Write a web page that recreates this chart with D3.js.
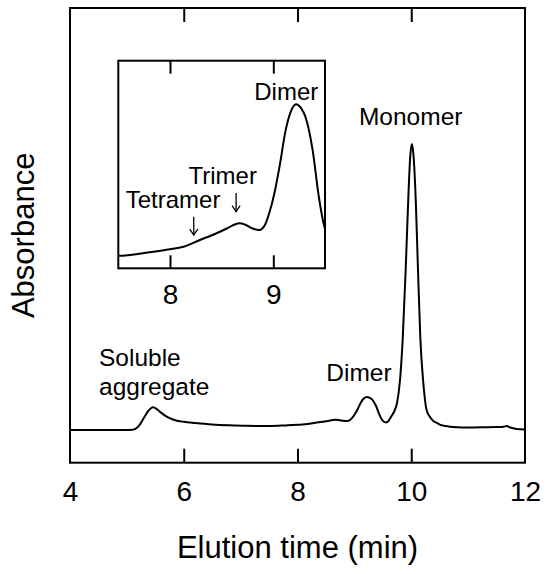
<!DOCTYPE html>
<html>
<head>
<meta charset="utf-8">
<script src="https://cdn.jsdelivr.net/npm/d3@7"></script>
<style>
  html, body { margin: 0; padding: 0; background: #fff; }
  svg { display: block; }
  text { font-family: "Liberation Sans", Arial, sans-serif; fill: #000; }
</style>
</head>
<body>
<svg id="chart" width="546" height="574"></svg>
<script>
// ---- data ----
const elutionTime = [
  4.00, 4.50, 5.00, 5.10, 5.20, 5.30, 5.38, 5.46, 5.53, 5.60, 5.70, 5.80, 5.90, 6.00,
  6.20, 6.50, 6.80, 7.10, 7.50, 7.80, 8.00, 8.13, 8.29, 8.45, 8.55, 8.62, 8.673, 8.73,
  8.80, 8.865, 8.92, 8.96, 9.01, 9.06, 9.12, 9.17, 9.22, 9.27, 9.31, 9.38, 9.44, 9.49,
  9.53, 9.56, 9.60, 9.65, 9.70, 9.75, 9.80, 9.85, 9.90, 9.95, 9.98, 10.01, 10.04, 10.08,
  10.12, 10.16, 10.21, 10.27, 10.33, 10.40, 10.45, 10.50, 10.60, 10.80, 11.00, 11.30,
  11.50, 11.62, 11.68, 11.74, 11.85, 12.00
];
const absorbance = [
  0.0, 0.0, 0.0, 0.1, 1.2, 4.3, 6.8, 8.0, 7.3, 6.1, 4.7, 3.8, 3.2, 2.9,
  2.5, 2.0, 1.7, 1.5, 1.42, 1.65, 1.85, 2.03, 2.48, 2.93, 3.25, 3.5, 3.6, 3.5,
  3.25, 3.15, 3.5, 4.27, 5.6, 7.4, 9.86, 11.1, 11.58, 11.3, 10.75, 8.52, 5.38, 3.48,
  2.8, 2.7, 3.2, 4.8, 6.5, 9.5, 17, 32, 55, 82, 95, 100, 96, 80,
  55, 32, 17, 7, 4.6, 3.0, 2.5, 1.9, 1.4, 1.0, 0.9, 1.0,
  1.1, 1.2, 1.4, 0.9, 0.4, 0.2
];
const mainTicks = [4, 6, 8, 10, 12];
const insetTicks = [8, 9];
const mainLabels = [
  { lines: ["Soluble", "aggregate"], t: 4.51, v: 22.4, anchor: "start" },
  { lines: ["Dimer"], t: 9.08, v: 17.2, anchor: "middle" },
  { lines: ["Monomer"], t: 9.99, v: 106.6, anchor: "middle" }
];
const insetLabels = [
  { text: "Dimer", t: 9.125, v: 11.87 },
  { text: "Trimer", t: 8.51, v: 6.23 },
  { text: "Tetramer", t: 8.03, v: 4.6 }
];
const insetArrows = [
  { t: 8.64, v0: 5.63, v1: 4.38 },
  { t: 8.23, v0: 4.04, v1: 2.81 }
];

const data = elutionTime.map((t, i) => ({ t, v: absorbance[i] }));

const svg = d3.select("#chart");

// ---- main plot ----
const M = { left: 70, right: 525, top: 8, bottom: 462.7 };
const x = d3.scaleLinear().domain([4, 12]).range([M.left, M.right]);
const y = d3.scaleLinear().domain([-11.4, 147.6]).range([M.bottom, M.top]);

const line = d3.line().x(d => x(d.t)).y(d => y(d.v)).curve(d3.curveMonotoneX);

svg.append("path").datum(data)
  .attr("d", line)
  .attr("fill", "none").attr("stroke", "#000").attr("stroke-width", 2)
  .attr("stroke-linejoin", "round");

// frame
svg.append("rect")
  .attr("x", M.left).attr("y", M.top)
  .attr("width", M.right - M.left).attr("height", M.bottom - M.top)
  .attr("fill", "none").attr("stroke", "#000").attr("stroke-width", 2);

// bottom axis (ticks inward)
const xAxisB = d3.axisBottom(x).tickValues(mainTicks).tickSize(-14).tickFormat(d3.format("d"));
const gB = svg.append("g").attr("transform", `translate(0,${M.bottom})`).call(xAxisB);
gB.select(".domain").remove();
gB.selectAll("line").attr("stroke", "#000").attr("stroke-width", 2)
  .filter(d => d === 4 || d === 12).remove();
gB.selectAll("text").attr("font-size", 28).attr("font-family", "Liberation Sans, Arial, sans-serif")
  .attr("dy", 0).attr("y", 38.5);

const xAxisT = d3.axisTop(x).tickValues(mainTicks).tickSize(-14).tickFormat("");
const gT = svg.append("g").attr("transform", `translate(0,${M.top})`).call(xAxisT);
gT.select(".domain").remove();
gT.selectAll("line").attr("stroke", "#000").attr("stroke-width", 2)
  .filter(d => d === 4 || d === 12).remove();

// axis titles
svg.append("text")
  .attr("x", (M.left + M.right) / 2).attr("y", 558)
  .attr("text-anchor", "middle").attr("font-size", 31)
  .text("Elution time (min)");
svg.append("text")
  .attr("transform", `translate(34,${(M.top + M.bottom) / 2}) rotate(-90)`)
  .attr("text-anchor", "middle").attr("font-size", 31)
  .text("Absorbance");

// main annotations
mainLabels.forEach(l => {
  const tx = svg.append("text")
    .attr("x", x(l.t)).attr("y", y(l.v))
    .attr("text-anchor", l.anchor).attr("font-size", 24.5);
  l.lines.forEach((s, i) => {
    tx.append("tspan").attr("x", x(l.t)).attr("dy", i === 0 ? 0 : 29).text(s);
  });
});

// ---- inset ----
const I = { left: 118.3, right: 325, top: 60.7, bottom: 268.3 };
const xi = d3.scaleLinear().domain([7.5, 9.5]).range([I.left, I.right]);
const yi = d3.scaleLinear().domain([0.58, 14.5]).range([I.bottom, I.top]);

svg.append("rect")
  .attr("x", I.left).attr("y", I.top)
  .attr("width", I.right - I.left).attr("height", I.bottom - I.top)
  .attr("fill", "#fff");

svg.append("clipPath").attr("id", "insetClip")
  .append("rect")
  .attr("x", I.left).attr("y", I.top)
  .attr("width", I.right - I.left).attr("height", I.bottom - I.top);

const lineI = d3.line().x(d => xi(d.t)).y(d => yi(d.v)).curve(d3.curveMonotoneX);
svg.append("path").datum(data.filter(d => d.t >= 7.1 && d.t <= 9.7))
  .attr("d", lineI).attr("clip-path", "url(#insetClip)")
  .attr("fill", "none").attr("stroke", "#000").attr("stroke-width", 2)
  .attr("stroke-linejoin", "round");

svg.append("rect")
  .attr("x", I.left).attr("y", I.top)
  .attr("width", I.right - I.left).attr("height", I.bottom - I.top)
  .attr("fill", "none").attr("stroke", "#000").attr("stroke-width", 2);

const xiB = d3.axisBottom(xi).tickValues(insetTicks).tickSize(-13).tickFormat(d3.format("d"));
const giB = svg.append("g").attr("transform", `translate(0,${I.bottom})`).call(xiB);
giB.select(".domain").remove();
giB.selectAll("line").attr("stroke", "#000").attr("stroke-width", 2);
giB.selectAll("text").attr("font-size", 28).attr("font-family", "Liberation Sans, Arial, sans-serif")
  .attr("dy", 0).attr("y", 35.5);

const xiT = d3.axisTop(xi).tickValues(insetTicks).tickSize(-13).tickFormat("");
const giT = svg.append("g").attr("transform", `translate(0,${I.top})`).call(xiT);
giT.select(".domain").remove();
giT.selectAll("line").attr("stroke", "#000").attr("stroke-width", 2);

insetLabels.forEach(l => {
  svg.append("text").attr("x", xi(l.t)).attr("y", yi(l.v))
    .attr("text-anchor", "middle").attr("font-size", 24).text(l.text);
});

insetArrows.forEach(a => {
  const ax = xi(a.t), y0 = yi(a.v0), y1 = yi(a.v1);
  svg.append("line").attr("x1", ax).attr("x2", ax).attr("y1", y0).attr("y2", y1)
    .attr("stroke", "#000").attr("stroke-width", 1.3);
  svg.append("path")
    .attr("d", `M${ax - 4},${y1 - 6} L${ax},${y1} L${ax + 4},${y1 - 6}`)
    .attr("fill", "none").attr("stroke", "#000").attr("stroke-width", 1.3);
});
</script>
</body>
</html>
